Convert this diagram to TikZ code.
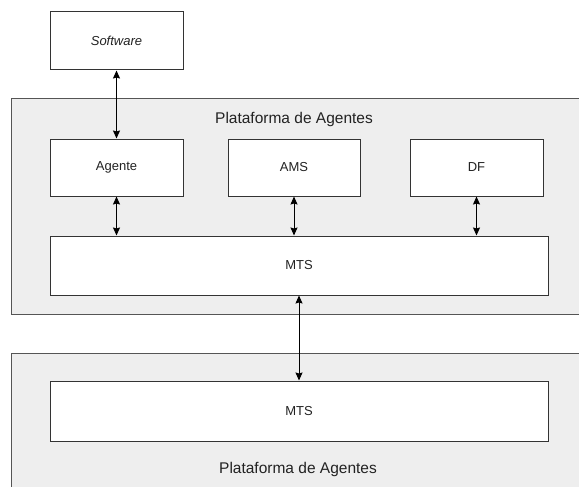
\documentclass[tikz,border=0pt]{standalone}
\usepackage{fontspec}
\setmainfont{Liberation Sans}
\usetikzlibrary{arrows.meta}

\definecolor{platfill}{HTML}{EEEEEE}
\definecolor{platline}{HTML}{555555}
\definecolor{boxline}{HTML}{333333}
\definecolor{labeltext}{HTML}{222222}

\begin{document}
\begin{tikzpicture}[x=1pt,y=-1pt,
  platform/.style={fill=platfill,draw=platline,line width=1pt},
  block/.style={draw=boxline,fill=white,line width=1pt,inner sep=0pt,
    text=labeltext,font=\fontsize{13}{15}\selectfont},
  title/.style={font=\fontsize{15.5}{18}\selectfont,text=labeltext,inner sep=0pt},
  link/.style={line width=1pt,{Stealth[length=8pt,width=7pt,inset=1pt]}-{Stealth[length=8pt,width=7pt,inset=1pt]}}]
\useasboundingbox (0,0) rectangle (579,487);

% the two agent platforms
\path[platform] (11,99) rectangle (579.5,314);
\path[platform] (11,353) rectangle (579.5,495);
\node[title] (plat1) at (294,119) {Plataforma de Agentes};
\node[title] (plat2) at (298,469) {Plataforma de Agentes};

% components
\node[block,minimum width=133pt,minimum height=58pt] (sw) at (116.5,41) {\itshape Software};
\node[block,minimum width=133pt,minimum height=57pt] (ag) at (116.5,167.5) {Agente};
\node[block,minimum width=132pt,minimum height=57pt] (ams) at (294,167.5) {AMS};
\node[block,minimum width=133pt,minimum height=57pt] (df) at (476.5,167.5) {DF};
\node[block,minimum width=498pt,minimum height=59pt] (mts1) at (299,265.5) {MTS};
\node[block,minimum width=498pt,minimum height=60pt] (mts2) at (299,411) {MTS};

% message paths
\draw[link] (sw.south) -- (ag.north);
\draw[link] (ag.south) -- (ag.south |- mts1.north);
\draw[link] (ams.south) -- (ams.south |- mts1.north);
\draw[link] (df.south) -- (df.south |- mts1.north);
\draw[link] (mts1.south) -- (mts2.north);
\end{tikzpicture}
\end{document}
